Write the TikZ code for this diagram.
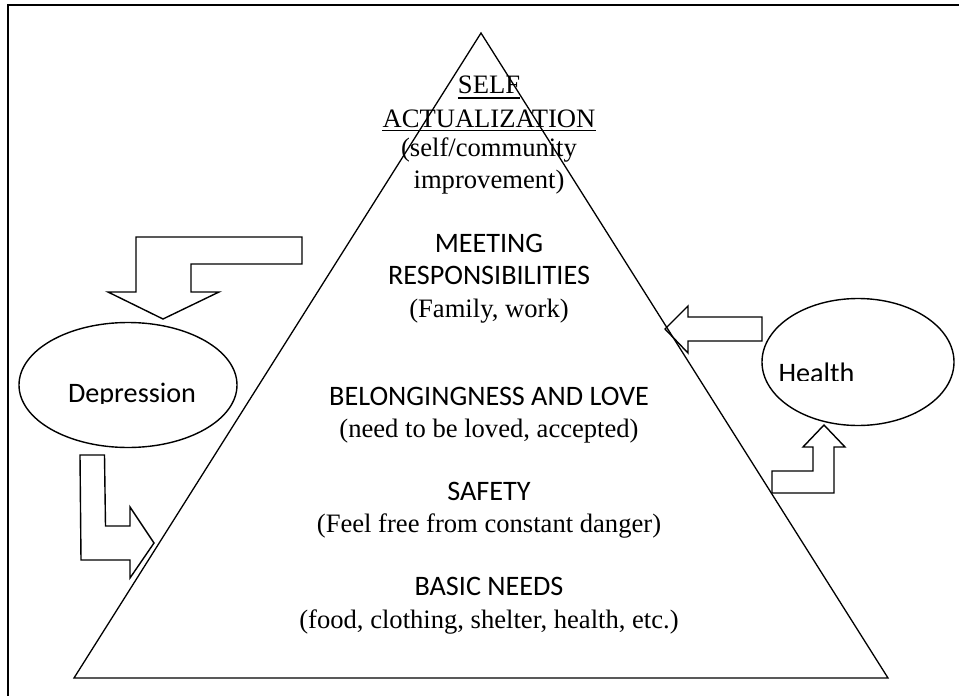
\documentclass[tikz,border=0pt]{standalone}
\usepackage{fontspec}
\setmainfont{Liberation Serif}
\newfontfamily\lsans{Carlito}
\usetikzlibrary{shapes.geometric}
\begin{document}
\begin{tikzpicture}[x=1pt,y=-1pt,
  serif/.style={font=\fontsize{26.6}{30}\selectfont, inner sep=0pt, anchor=base},
  sans/.style={font=\lsans\fontsize{28.2}{32}\selectfont, inner sep=0pt, anchor=base},
  blockarrow/.style={draw, line width=1.4pt, line join=miter},
  bubble/.style={draw, ellipse, line width=1.4pt, inner sep=0pt},
  edge/.style={line width=1.3pt, line join=miter}]
\useasboundingbox (0,0) rectangle (959,696);
\clip (0,0) rectangle (959,696);
% frame (right and bottom sides lie outside the picture)
\draw[line width=2pt] (8,5) rectangle (990,730);
% pyramid
\coordinate (apex) at (481,33);
\coordinate (bl) at (74,678);
\coordinate (br) at (888,678);
\draw[edge] (apex) -- (br) -- (bl) -- cycle;
% texts
\node[serif] (self) at (489,93) {SELF};
\draw[line width=1.5pt] ([yshift=-5pt]self.base west) -- ([yshift=-5pt]self.base east);
\node[serif] (actu) at (489,127) {ACTUALIZATION};
\draw[line width=1.5pt] ([yshift=-3.5pt]actu.base west) -- ([yshift=-3.5pt]actu.base east);
\node[serif] (selfc) at (489,156) {(self/community};
\node[serif] (impr) at (489,188) {improvement)};
\node[sans] (meet) at (489,252) {MEETING};
\node[sans] (resp) at (489,284) {RESPONSIBILITIES};
\node[serif] (fam) at (489,317) {(Family, work)};
\node[sans] (belong) at (489,405) {BELONGINGNESS AND LOVE};
\node[serif] (loved) at (489,437) {(need to be loved, accepted)};
\node[sans] (safety) at (489,500) {SAFETY};
\node[serif] (danger) at (489,532) {(Feel free from constant danger)};
\node[sans] (basic) at (489,595) {BASIC NEEDS};
\node[serif] (food) at (489,628) {(food, clothing, shelter, health, etc.)};
% ellipses
\node[bubble, minimum width=218pt, minimum height=125pt] (dep) at (128,385) {};
\begin{scope}
  \clip (20,330) rectangle (236,403);
  \node[sans] (deptext) at (132,402) {Depression};
\end{scope}
\node[bubble, minimum width=192pt, minimum height=127pt] (health) at (858,362) {};
\begin{scope}
  \clip (770,330) rectangle (950,380.5);
  \node[sans] (healthtext) at (816.5,382) {Health};
\end{scope}
% block arrows
\draw[blockarrow] (302,237) -- (136,237) -- (136,292) -- (108,292) -- (163,319)
  -- (219,292) -- (191,292) -- (191,264) -- (302,264) -- cycle;
\draw[blockarrow] (80,455) -- (104.5,455) -- (105.5,526) -- (130,526) -- (130,507)
  -- (154,543) -- (130,578) -- (130,560) -- (81,560) -- cycle;
\draw[blockarrow] (762,317) -- (688,317) -- (688,306) -- (665,329) -- (688,353)
  -- (688,341) -- (762,341) -- cycle;
\draw[blockarrow] (772,471) -- (813,471) -- (813,447) -- (803,447) -- (824,425)
  -- (845,447) -- (834,447) -- (834,493) -- (772,493) -- cycle;
\end{tikzpicture}
\end{document}
